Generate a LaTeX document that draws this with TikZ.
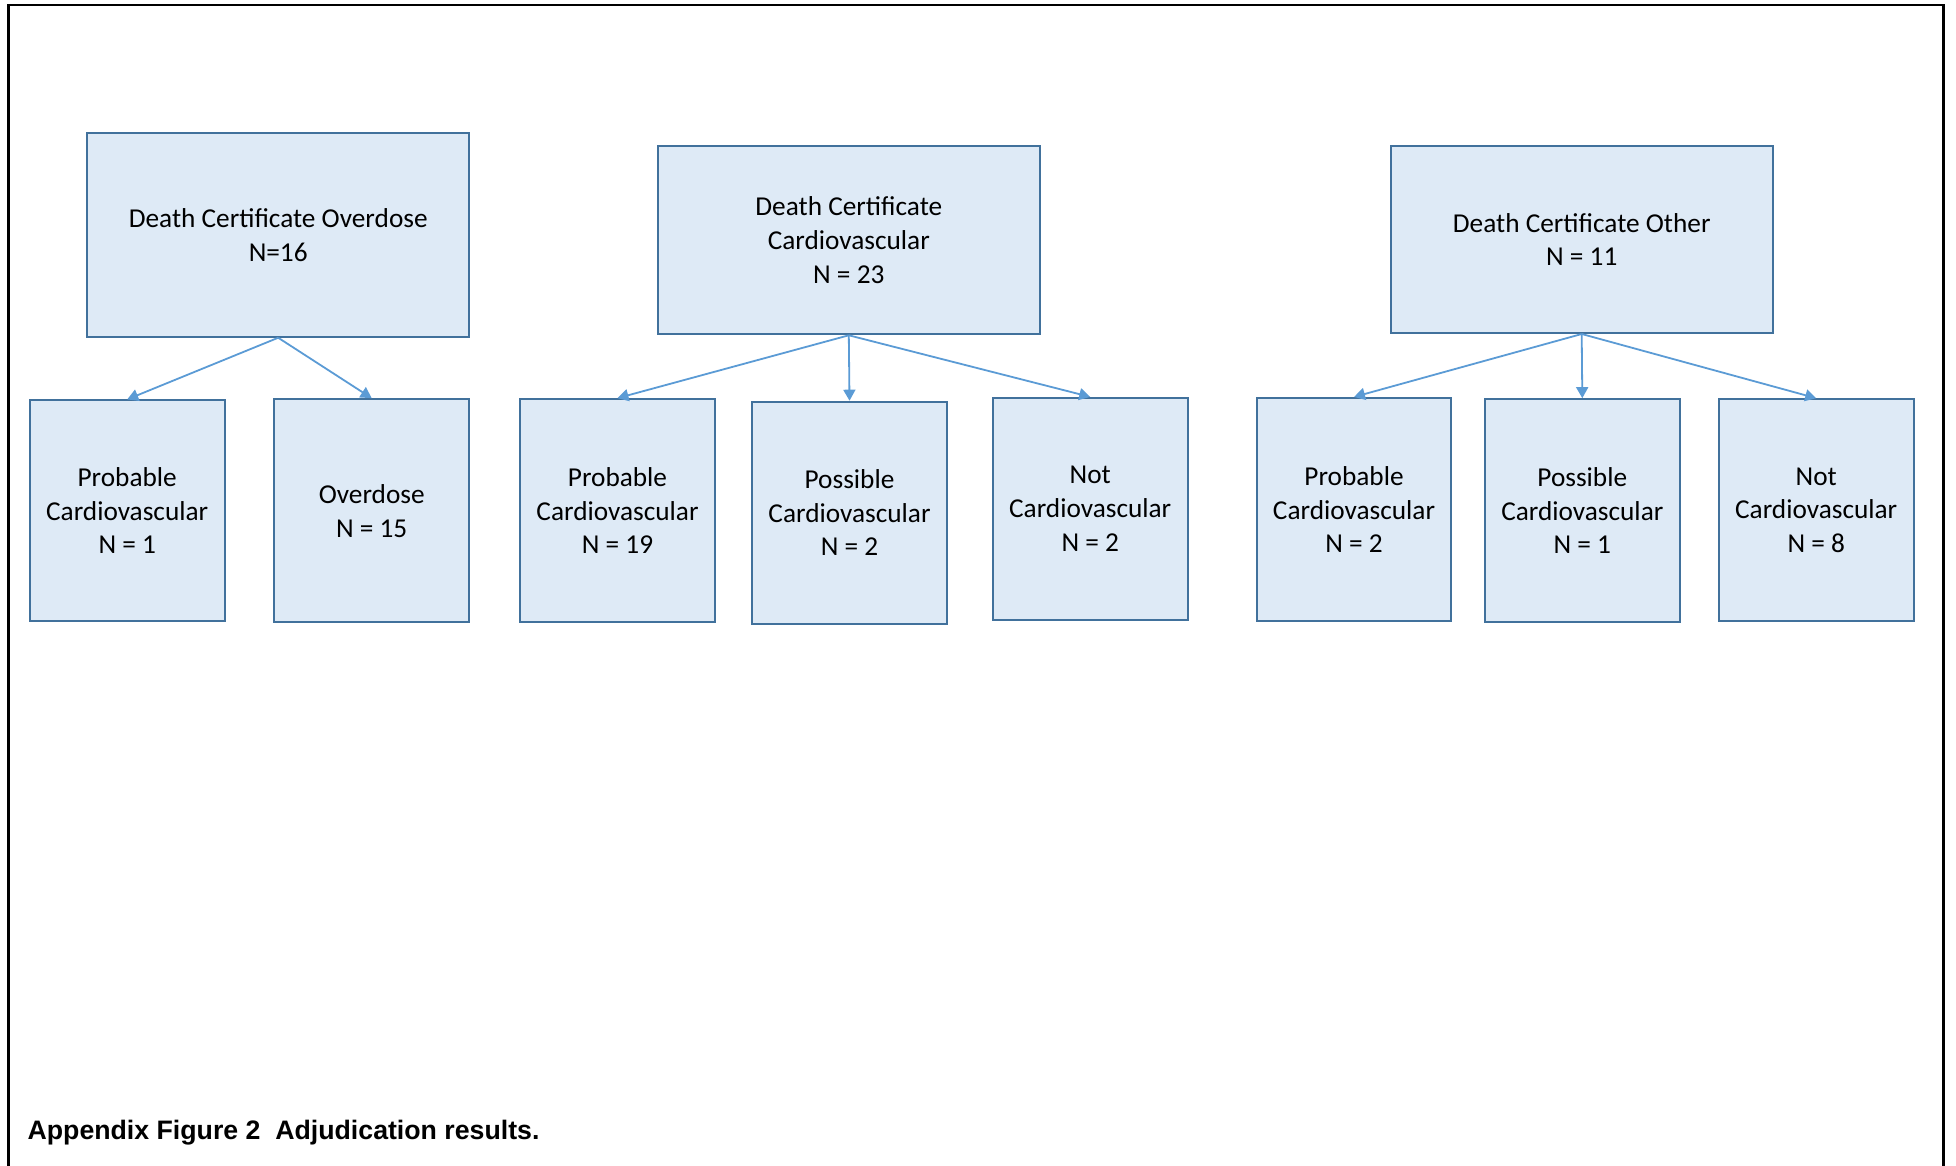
\documentclass[tikz,border=0pt]{standalone}
\usepackage{fontspec}
\setmainfont{Carlito}
\newfontfamily\capfont{Liberation Sans}
\usetikzlibrary{arrows.meta}
\definecolor{boxfill}{HTML}{DEEAF6}
\definecolor{boxline}{HTML}{41719C}
\definecolor{arrowc}{HTML}{5B9BD5}
\begin{document}
\begin{tikzpicture}[x=1pt,y=-1pt,
  box/.style={draw=boxline, fill=boxfill, line width=2pt, align=center, inner sep=0pt,
    font=\fontsize{27.3}{33.7}\selectfont},
  topbox/.style={box, minimum width=382pt},
  kidbox/.style={box, minimum width=194.6pt, minimum height=222pt},
  link/.style={draw=arrowc, line width=1.8pt, -{Triangle[width=12pt,length=11pt]}}]
\useasboundingbox (0,0) rectangle (1956,1166);
\draw[line width=2.5pt] (8.7,1166) -- (8.7,5) -- (1943.5,5) -- (1943.5,1166);

\node[topbox, minimum height=203.3pt] (dco) at (278.2,235.1) {Death Certificate Overdose\\N=16};
\node[topbox, minimum height=188.4pt] (dcc) at (848.8,240.1) {Death Certificate\\Cardiovascular\\N = 23};
\node[topbox, minimum height=187pt] (dct) at (1581.7,239.5) {Death Certificate Other\\N = 11};

\node[kidbox, minimum height=220.8pt] (a1) at (127.2,510.8) {Probable\\Cardiovascular\\N = 1};
\node[kidbox, minimum height=223.3pt] (a2) at (371.7,510.8) {Overdose\\N = 15};
\node[kidbox, minimum height=223.3pt] (b1) at (617.5,510.8) {Probable\\Cardiovascular\\N = 19};
\node[kidbox] (b2) at (849.5,512.7) {Possible\\Cardiovascular\\N = 2};
\node[kidbox] (b3) at (1090.2,508.9) {Not\\Cardiovascular\\N = 2};
\node[kidbox, minimum height=223.3pt] (c1) at (1354,509.6) {Probable\\Cardiovascular\\N = 2};
\node[kidbox, minimum height=223.3pt] (c2) at (1582.3,510.8) {Possible\\Cardiovascular\\N = 1};
\node[kidbox] (c3) at (1816.2,510.2) {Not\\Cardiovascular\\N = 8};

\draw[link] (dco.south) -- (a1.north);
\draw[link] (dco.south) -- (a2.north);
\draw[link] (dcc.south) -- (b1.north);
\draw[link] (dcc.south) -- (b2.north);
\draw[link] (dcc.south) -- (b3.north);
\draw[link] (dct.south) -- (c1.north);
\draw[link] (dct.south) -- (c2.north);
\draw[link] (dct.south) -- (c3.north);

\node[anchor=base west, inner sep=0pt, font=\capfont\bfseries\fontsize{26.7}{30}\selectfont] (cap) at (27.4,1139) {Appendix Figure 2\ \ Adjudication results.};
\end{tikzpicture}
\end{document}
